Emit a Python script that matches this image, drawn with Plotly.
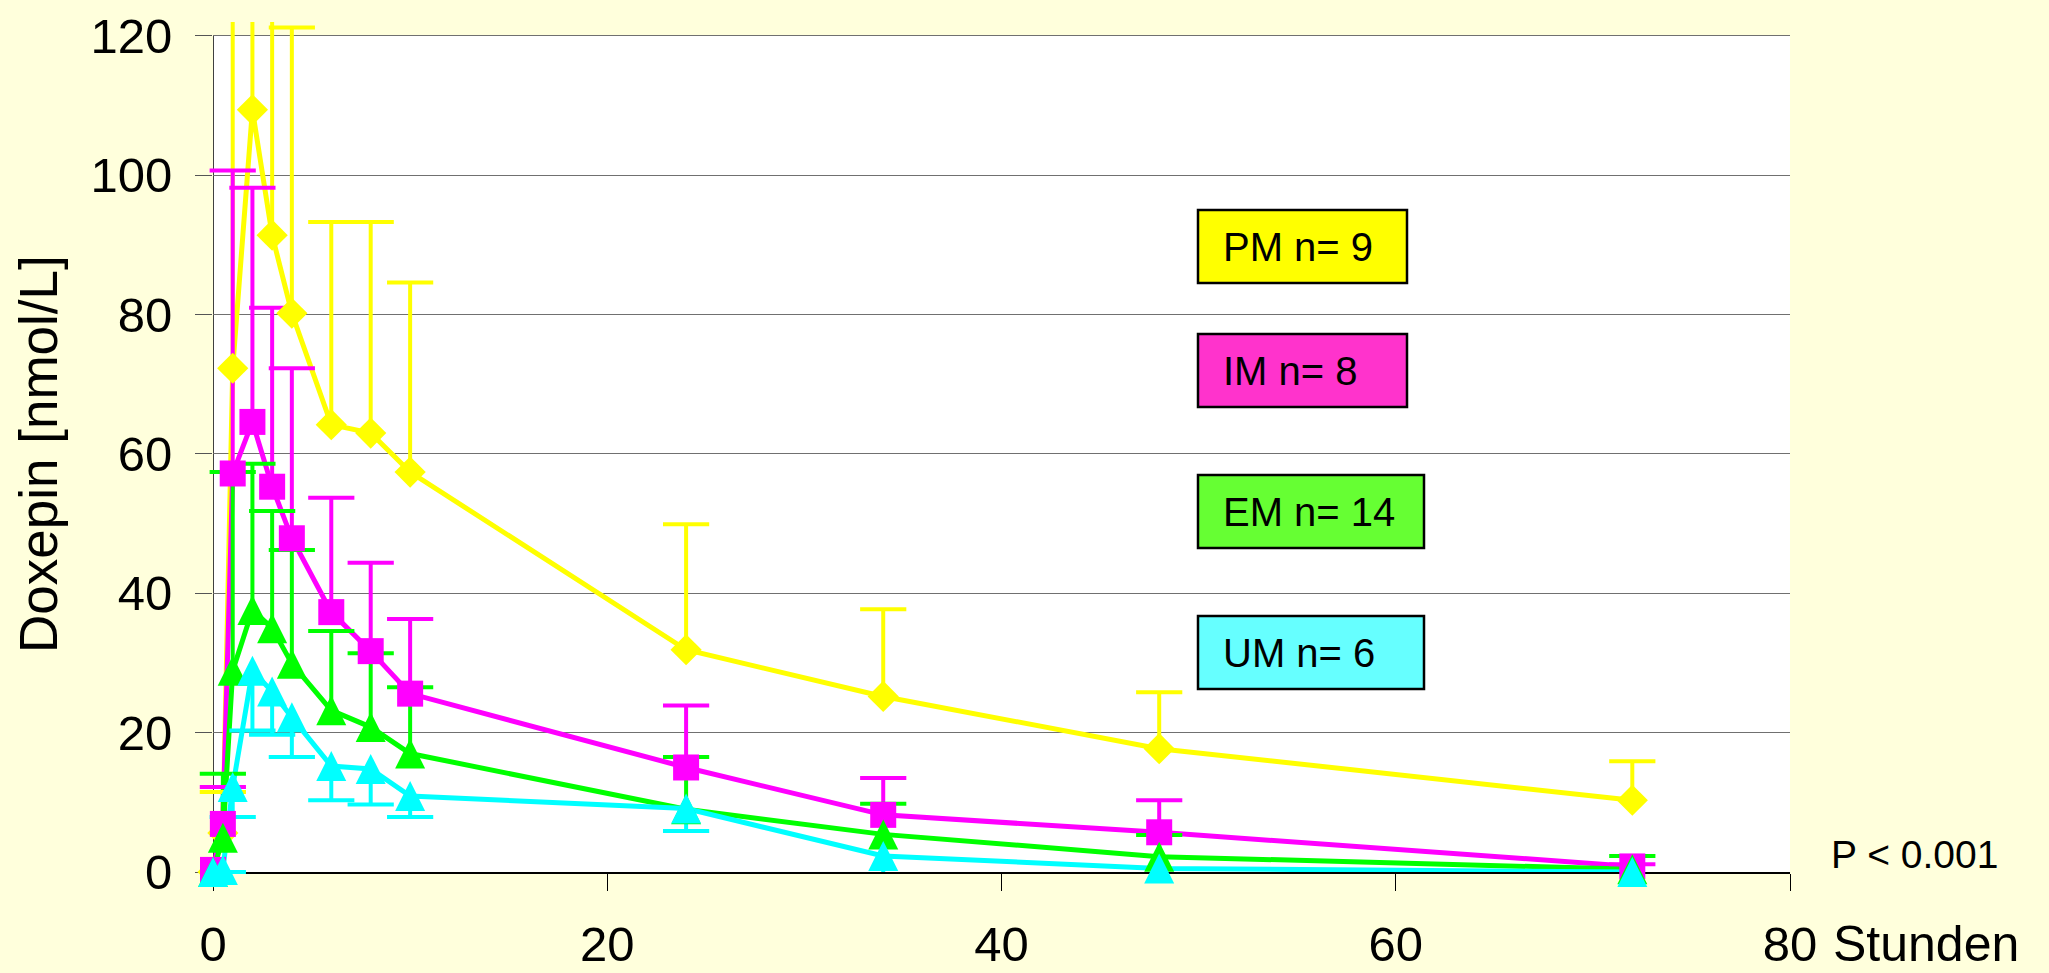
import plotly.graph_objects as go

# ---------------- data ----------------
hours = [0, 0.5, 1, 2, 3, 4, 6, 8, 10, 24, 34, 48, 72]

pm_mean = [0, 5.6, 72.3, 109.4, 91.4, 80.2, 64.2, 63.0, 57.4, 31.9, 25.2, 17.7, 10.3]
pm_sd = [0, 5.9, 70.0, 60.0, 55.0, 41.0, 29.1, 30.3, 27.2, 18.0, 12.5, 8.1, 5.6]

im_mean = [0.3, 6.9, 57.2, 64.6, 55.3, 47.9, 37.3, 31.7, 25.6, 15.0, 8.2, 5.7, 0.8]
im_sd = [0, 5.3, 43.5, 33.6, 25.7, 24.4, 16.4, 12.7, 10.7, 8.9, 5.3, 4.6, 0.3]

em_mean = [0, 4.9, 28.9, 37.6, 35.0, 29.9, 23.2, 20.8, 17.0, 9.0, 5.4, 2.2, 0.4]
em_sd = [0, 9.2, 28.5, 21.0, 16.8, 16.3, 11.4, 10.6, 9.5, 7.5, 4.4, 3.1, 1.9]

um_mean = [0, 0.3, 12.2, 28.9, 25.9, 22.2, 15.2, 14.8, 10.9, 9.1, 2.3, 0.5, 0.0]
um_sd = [0, 0.3, 4.3, 8.6, 6.2, 5.7, 4.9, 5.1, 3.0, 3.2, 2.4, 1.2, 0.2]

group_labels = ["PM n= 9", "IM n= 8", "EM n= 14", "UM n= 6"]
x_ticks = [0, 20, 40, 60, 80]
y_ticks = [0, 20, 40, 60, 80, 100, 120]
x_title = "Stunden"
y_title = "Doxepin [nmol/L]"
p_text = "P < 0.001"

# ---------------- styles ----------------
BG = "#FFFFDC"
FONT = "Liberation Sans, Arial, sans-serif"
W, H = 2049, 973
L, R, T, B = 213, 259, 22, 101   # plot area: x 213..1790, y 22..872

def px_x(px):
    return (px - L) / (W - L - R)

def px_y(py):
    return (H - B - py) / (H - B - T)

series = [
    # mean, sd, line colour, marker symbol, size, direction of error bar, box fill
    (pm_mean, pm_sd, "#FFFF00", "diamond", 24, +1, "#FFFF00"),
    (im_mean, im_sd, "#FF00FF", "square", 26, +1, "#FF33CC"),
    (em_mean, em_sd, "#00FF00", "triangle", 30, +1, "#66FF33"),
    (um_mean, um_sd, "#00FFFF", "triangle", 30, -1, "#66FFFF"),
]

fig = go.Figure()
n = len(hours)

# lines + error-bar stems
for mean, sd, col, sym, size, d, box in series:
    plus = sd if d > 0 else [0] * n
    minus = sd if d < 0 else [0] * n
    fig.add_trace(go.Scatter(
        x=hours, y=mean, mode="lines",
        line=dict(color=col, width=5),
        error_y=dict(type="data", symmetric=False, array=plus, arrayminus=minus,
                     color=col, thickness=4, width=0),
        hoverinfo="skip", showlegend=False))

# error-bar caps
for mean, sd, col, sym, size, d, box in series:
    caps = [m + d * s if s > 0 else None for m, s in zip(mean, sd)]
    fig.add_trace(go.Scatter(
        x=hours, y=caps, mode="markers",
        marker=dict(symbol="line-ew", size=33, color=col,
                    line=dict(color=col, width=4)),
        cliponaxis=False, hoverinfo="skip", showlegend=False))

# markers
for mean, sd, col, sym, size, d, box in series:
    if sym == "triangle":
        mk = dict(symbol="arrow-down", angle=180, standoff=size / 2, size=size,
                  color=col, line=dict(width=0))
    else:
        mk = dict(symbol=sym, size=size, color=col, line=dict(width=0))
    fig.add_trace(go.Scatter(x=hours, y=mean, mode="markers", marker=mk,
                             cliponaxis=False, showlegend=False))

shapes = [
    dict(type="rect", xref="x", yref="y", x0=0, x1=80, y0=0, y1=120,
         fillcolor="white", line=dict(width=0), layer="below"),
    dict(type="line", xref="x", yref="y", x0=0, x1=0, y0=0, y1=120,
         line=dict(color="black", width=1.5), layer="below"),
]
annotations = []

# legend boxes
boxes = [(1198, 1407, 210, 283), (1198, 1407, 334, 407),
         (1198, 1424, 475, 548), (1198, 1424, 616, 689)]
for (x0, x1, y0, y1), lab, s in zip(boxes, group_labels, series):
    shapes.append(dict(type="rect", xref="paper", yref="paper",
                       x0=px_x(x0), x1=px_x(x1), y0=px_y(y1), y1=px_y(y0),
                       fillcolor=s[6], line=dict(color="black", width=2.5),
                       layer="above"))
    annotations.append(dict(xref="paper", yref="paper", x=px_x(1221),
                            y=px_y((y0 + y1) / 2), xanchor="left", yanchor="middle",
                            text=lab, showarrow=False,
                            font=dict(size=40, color="black", family=FONT)))

annotations += [
    dict(xref="paper", yref="paper", x=px_x(1829), y=px_y(854),
         xanchor="left", yanchor="middle", text=p_text, showarrow=False,
         font=dict(size=39, color="black", family=FONT)),
    dict(xref="paper", yref="paper", x=px_x(1831), y=px_y(944),
         xanchor="left", yanchor="middle", text=x_title, showarrow=False,
         font=dict(size=50, color="black", family=FONT)),
    dict(xref="paper", yref="paper", x=px_x(38), y=px_y(454),
         xanchor="center", yanchor="middle", textangle=-90, text=y_title,
         showarrow=False,
         font=dict(size=53, color="black", family=FONT)),
]

fig.update_layout(
    template="none",
    width=W, height=H,
    margin=dict(l=L, r=R, t=T, b=B, pad=0, autoexpand=False),
    paper_bgcolor=BG, plot_bgcolor=BG,
    font=dict(family=FONT, color="black"),
    showlegend=False,
    shapes=shapes, annotations=annotations,
    xaxis=dict(range=[0, 80], tickvals=x_ticks, ticks="outside", ticklen=17,
               tickcolor="black", tickwidth=1, showline=True, linecolor="black",
               linewidth=1.5, showgrid=False, zeroline=False, layer="below traces",
               automargin=False,
               tickfont=dict(size=49, family=FONT, color="black"),
               ticklabelstandoff=11),
    yaxis=dict(range=[0, 122], tickvals=y_ticks, ticks="outside", ticklen=17,
               tickcolor="#555555", tickwidth=1, showline=False, showgrid=True,
               gridcolor="#707070", gridwidth=1, zeroline=False, layer="below traces",
               automargin=False,
               tickfont=dict(size=49, family=FONT, color="black"),
               ticklabelstandoff=13),
)

fig.write_html("out.html", config={"displayModeBar": False},
               post_script="document.body.style.margin='0';")
